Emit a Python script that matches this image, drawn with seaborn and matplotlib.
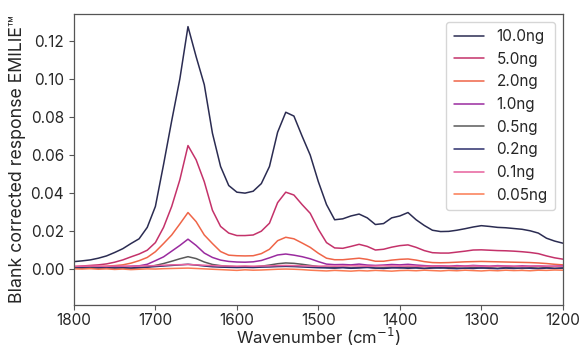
import numpy as np
import pandas as pd
import seaborn as sns
import matplotlib.pyplot as plt

wavenumber = list(range(1800, 1195, -10))

amt_10ng = [0.0040, 0.0044, 0.0049, 0.0058, 0.0070, 0.0088, 0.0108, 0.0135, 0.0160, 0.0220,
            0.0330, 0.0550, 0.0780, 0.1000, 0.1275, 0.1117, 0.0970, 0.0715, 0.0540, 0.0440,
            0.0405, 0.0400, 0.0410, 0.0450, 0.0540, 0.0720, 0.0825, 0.0805, 0.0700, 0.0600,
            0.0460, 0.0340, 0.0260, 0.0265, 0.0280, 0.0290, 0.0270, 0.0235, 0.0240, 0.0270,
            0.0280, 0.0298, 0.0260, 0.0230, 0.0205, 0.0198, 0.0199, 0.0205, 0.0213, 0.0222,
            0.0229, 0.0225, 0.0220, 0.0218, 0.0214, 0.0210, 0.0202, 0.0190, 0.0163, 0.0148,
            0.0137]
amt_5ng = [0.0014, 0.0017, 0.0020, 0.0023, 0.0028, 0.0037, 0.0049, 0.0065, 0.0080, 0.0100,
           0.0140, 0.0220, 0.0330, 0.0470, 0.0650, 0.0575, 0.0460, 0.0310, 0.0225, 0.0190,
           0.0177, 0.0177, 0.0180, 0.0200, 0.0242, 0.0350, 0.0405, 0.0390, 0.0340, 0.0294,
           0.0210, 0.0140, 0.0112, 0.0110, 0.0120, 0.0131, 0.0120, 0.0101, 0.0105, 0.0116,
           0.0124, 0.0128, 0.0115, 0.0098, 0.0087, 0.0085, 0.0085, 0.0090, 0.0095, 0.0101,
           0.0102, 0.0100, 0.0098, 0.0097, 0.0095, 0.0092, 0.0088, 0.0082, 0.0070, 0.0060,
           0.0053]
amt_2ng = [0.0010, 0.0011, 0.0012, 0.0014, 0.0016, 0.0019, 0.0023, 0.0032, 0.0045, 0.0062,
           0.0092, 0.0135, 0.0180, 0.0238, 0.0298, 0.0250, 0.0180, 0.0135, 0.0093, 0.0074,
           0.0071, 0.0070, 0.0071, 0.0082, 0.0105, 0.0150, 0.0168, 0.0160, 0.0138, 0.0115,
           0.0084, 0.0058, 0.0050, 0.0050, 0.0054, 0.0058, 0.0052, 0.0042, 0.0042, 0.0048,
           0.0052, 0.0054, 0.0048, 0.0040, 0.0035, 0.0034, 0.0035, 0.0037, 0.0039, 0.0040,
           0.0041, 0.0040, 0.0039, 0.0038, 0.0037, 0.0036, 0.0035, 0.0033, 0.0030, 0.0026,
           0.0023]
amt_1ng = [0.0010, 0.0010, 0.0011, 0.0012, 0.0012, 0.0013, 0.0014, 0.0016, 0.0018, 0.0026,
           0.0045, 0.0065, 0.0095, 0.0125, 0.0158, 0.0125, 0.0085, 0.0062, 0.0048, 0.0041,
           0.0038, 0.0037, 0.0039, 0.0046, 0.0060, 0.0075, 0.0080, 0.0074, 0.0066, 0.0055,
           0.0040, 0.0027, 0.0024, 0.0025, 0.0023, 0.0027, 0.0022, 0.0020, 0.0022, 0.0025,
           0.0023, 0.0026, 0.0022, 0.0019, 0.0017, 0.0018, 0.0016, 0.0019, 0.0017, 0.0020,
           0.0018, 0.0016, 0.0019, 0.0017, 0.0015, 0.0018, 0.0016, 0.0017, 0.0015, 0.0016,
           0.0018]
amt_05ng = [0.0008, 0.0006, 0.0009, 0.0007, 0.0005, 0.0008, 0.0006, 0.0004, 0.0007, 0.0011,
            0.0020, 0.0030, 0.0042, 0.0055, 0.0066, 0.0056, 0.0038, 0.0025, 0.0019, 0.0015,
            0.0013, 0.0014, 0.0012, 0.0016, 0.0022, 0.0029, 0.0033, 0.0031, 0.0026, 0.0020,
            0.0014, 0.0010, 0.0008, 0.0011, 0.0007, 0.0009, 0.0012, 0.0006, 0.0008, 0.0010,
            0.0007, 0.0011, 0.0008, 0.0005, 0.0009, 0.0006, 0.0010, 0.0007, 0.0005, 0.0009,
            0.0006, 0.0008, 0.0005, 0.0009, 0.0007, 0.0004, 0.0008, 0.0006, 0.0009, 0.0005,
            0.0007]
amt_02ng = [0.0006, 0.0008, 0.0005, 0.0007, 0.0009, 0.0006, 0.0008, 0.0007, 0.0009, 0.0011,
            0.0014, 0.0017, 0.0020, 0.0023, 0.0026, 0.0022, 0.0017, 0.0013, 0.0011, 0.0010,
            0.0009, 0.0010, 0.0009, 0.0011, 0.0012, 0.0014, 0.0015, 0.0014, 0.0012, 0.0010,
            0.0008, 0.0007, 0.0006, 0.0008, 0.0005, 0.0007, 0.0009, 0.0006, 0.0004, 0.0007,
            0.0008, 0.0005, 0.0007, 0.0004, 0.0006, 0.0008, 0.0005, 0.0003, 0.0006, 0.0004,
            0.0007, 0.0005, 0.0003, 0.0006, 0.0004, 0.0007, 0.0005, 0.0003, 0.0006, 0.0004,
            0.0006]
amt_01ng = [0.0015, 0.0016, 0.0017, 0.0016, 0.0015, 0.0017, 0.0016, 0.0015, 0.0017, 0.0018,
            0.0019, 0.0021, 0.0023, 0.0024, 0.0025, 0.0023, 0.0021, 0.0019, 0.0018, 0.0017,
            0.0016, 0.0017, 0.0016, 0.0017, 0.0018, 0.0019, 0.0020, 0.0019, 0.0018, 0.0017,
            0.0016, 0.0017, 0.0016, 0.0017, 0.0018, 0.0017, 0.0016, 0.0017, 0.0018, 0.0017,
            0.0016, 0.0017, 0.0016, 0.0015, 0.0016, 0.0017, 0.0016, 0.0015, 0.0016, 0.0017,
            0.0016, 0.0015, 0.0016, 0.0017, 0.0016, 0.0015, 0.0016, 0.0017, 0.0016, 0.0015,
            0.0016]
amt_005ng = [0.0002, 0.0001, 0.0003, 0.0000, 0.0002, -0.0001, 0.0001, -0.0002, 0.0000, 0.0002,
             0.0001, 0.0003, 0.0004, 0.0005, 0.0006, 0.0004, 0.0002, 0.0000, -0.0002, -0.0004,
             -0.0006, -0.0003, -0.0005, -0.0004, -0.0002, 0.0000, 0.0001, 0.0000, -0.0002, -0.0005,
             -0.0007, -0.0009, -0.0006, -0.0008, -0.0010, -0.0007, -0.0009, -0.0006, -0.0008, -0.0010,
             -0.0007, -0.0006, -0.0008, -0.0005, -0.0007, -0.0009, -0.0006, -0.0008, -0.0005, -0.0007,
             -0.0009, -0.0006, -0.0008, -0.0005, -0.0007, -0.0006, -0.0008, -0.0005, -0.0006, -0.0004,
             -0.0005]

labels = ["10.0ng", "5.0ng", "2.0ng", "1.0ng", "0.5ng", "0.2ng", "0.1ng", "0.05ng"]
series = [amt_10ng, amt_5ng, amt_2ng, amt_1ng, amt_05ng, amt_02ng, amt_01ng, amt_005ng]
colors = ["#2b2c52", "#c4326a", "#ef6548", "#9a2b9f", "#5a5a5a", "#2c2f6c", "#e7619c", "#fb7a52"]

df = pd.concat([pd.DataFrame({"wavenumber": wavenumber, "response": vals, "amount": lab})
                for lab, vals in zip(labels, series)], ignore_index=True)

sns.set_style("ticks")
plt.rcParams['font.family'] = ['Inter', 'DejaVu Sans']

fig, ax = plt.subplots(figsize=(5.82, 3.47), dpi=100)
fig.subplots_adjust(left=0.127, right=0.967, top=0.960, bottom=0.121)

sns.lineplot(data=df, x="wavenumber", y="response", hue="amount", hue_order=labels,
             palette=colors, linewidth=1.1, ax=ax, sort=False)

ax.set_xlim(1800, 1200)
ax.set_ylim(-0.0188, 0.1342)
ax.set_xticks([1800, 1700, 1600, 1500, 1400, 1300, 1200])
ax.set_yticks([0.00, 0.02, 0.04, 0.06, 0.08, 0.10, 0.12])
ax.tick_params(labelsize=11, color="#555555", length=3.5)
ax.tick_params(axis="x", pad=2)
for s in ax.spines.values():
    s.set_color("#555555")
    s.set_linewidth(0.9)
ax.set_xlabel("Wavenumber (cm$^{-1}$)", fontsize=12, labelpad=-1)
ax.set_ylabel("Blank corrected response EMILIE™", fontsize=12.8, labelpad=3)

leg = ax.legend(loc="upper right", fontsize=11, frameon=True, borderpad=0.5,
                labelspacing=0.5, handlelength=2.0)
leg.set_title(None)

plt.savefig("out.png", dpi=100)
